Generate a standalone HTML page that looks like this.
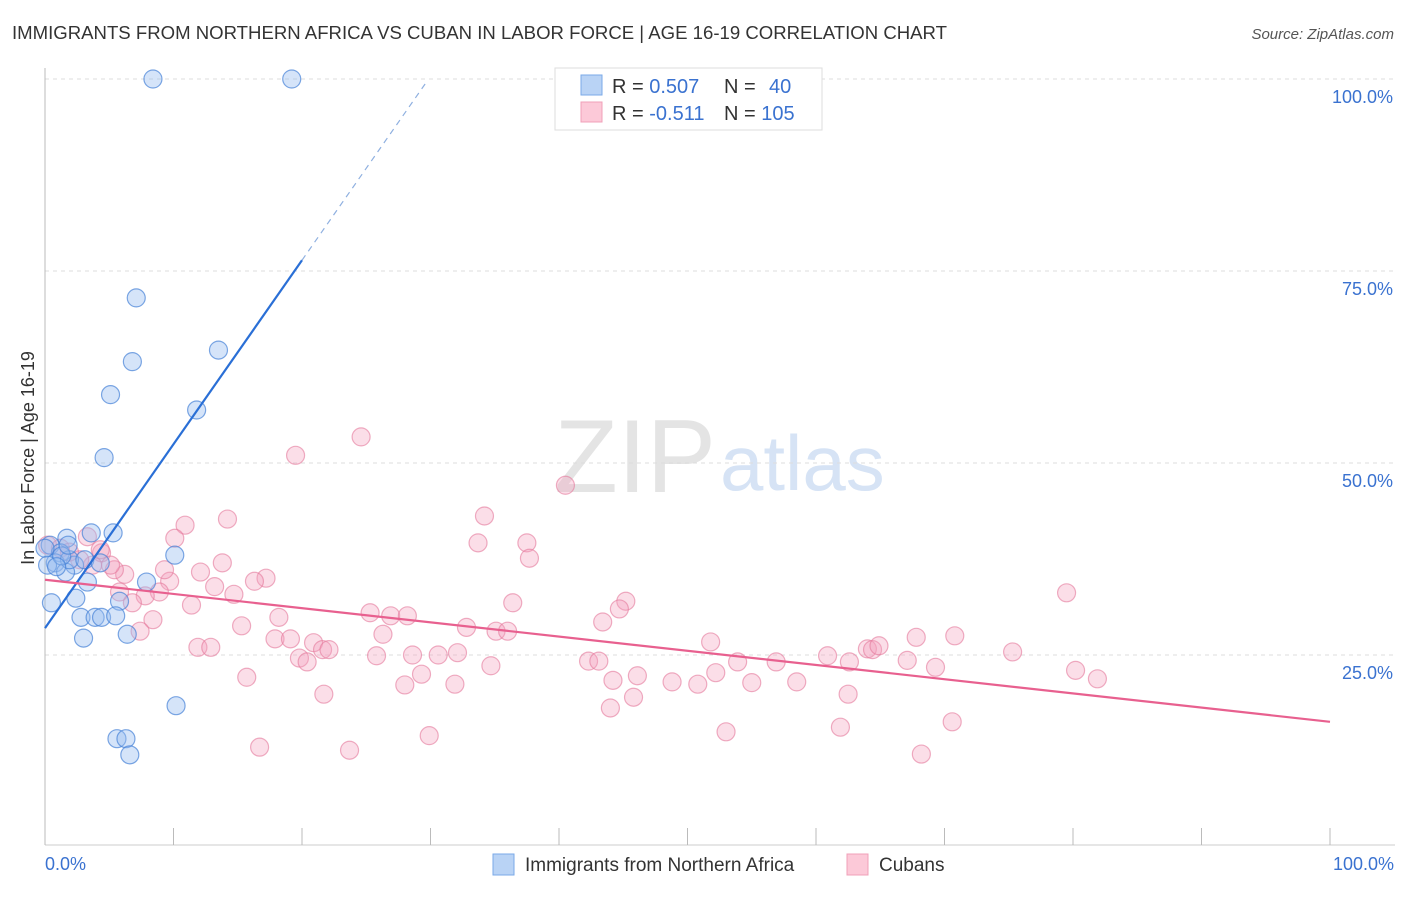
<!DOCTYPE html>
<html><head><meta charset="utf-8"><style>
body{margin:0;background:#fff;font-family:"Liberation Sans",sans-serif;}
svg text{font-family:"Liberation Sans",sans-serif;}
</style></head><body>
<svg id="chart" width="1406" height="892">
<text x="12" y="39" font-size="18" fill="#333" textLength="935" lengthAdjust="spacingAndGlyphs">IMMIGRANTS FROM NORTHERN AFRICA VS CUBAN IN LABOR FORCE | AGE 16-19 CORRELATION CHART</text>
<text x="1394" y="39" font-size="15" fill="#555" font-style="italic" text-anchor="end">Source: ZipAtlas.com</text>
<text x="716" y="492" font-size="104" fill="#e4e4e4" text-anchor="end" font-family="Liberation Serif">ZIP</text>
<text x="720" y="490" font-size="78" fill="#d6e3f5">atlas</text>
<text transform="translate(34,458) rotate(-90)" font-size="18" fill="#333" text-anchor="middle">In Labor Force | Age 16-19</text>
<g id="grid"></g><g id="ticks"></g><g id="pts"></g><g id="lines"></g>
<g>
<rect x="555" y="68" width="267" height="62" fill="#fff" stroke="#ddd"/>
<rect x="581" y="75" width="21" height="20" fill="#b9d3f5" stroke="#7aaae8"/>
<rect x="581" y="102" width="21" height="20" fill="#fcc9d8" stroke="#f0a0b8"/>
<text x="612" y="93" font-size="20" fill="#333">R = <tspan fill="#3a72d0">0.507</tspan></text>
<text x="724" y="93" font-size="20" fill="#333">N = <tspan x="769" fill="#3a72d0">40</tspan></text>
<text x="612" y="120" font-size="20" fill="#333">R = <tspan fill="#3a72d0">-0.511</tspan></text>
<text x="724" y="120" font-size="20" fill="#333">N = <tspan fill="#3a72d0">105</tspan></text>
</g>
<g>
<rect x="493" y="854" width="21" height="21" fill="#b9d3f5" stroke="#7aaae8"/>
<text x="525" y="871" font-size="19" fill="#333">Immigrants from Northern Africa</text>
<rect x="847" y="854" width="21" height="21" fill="#fcc9d8" stroke="#f0a0b8"/>
<text x="879" y="871" font-size="19" fill="#333">Cubans</text>
</g>
<text x="45" y="870" font-size="18" fill="#3a72d0">0.0%</text>
<text x="1394" y="870" font-size="18" fill="#3a72d0" text-anchor="end">100.0%</text>
</svg>
<script>
const yTicks=[25,50,75,100];
const yTickLabels=["25.0%","50.0%","75.0%","100.0%"];
const xTicks=[0,10,20,30,40,50,60,70,80,90,100];
const blueX=[8.4,19.2,7.1,6.8,13.5,5.1,11.8,4.6,5.3,3.6,1.7,10.1,0.4,1.2,0.8,2.3,1.6,3.3,7.9,2.4,0.5,5.8,2.8,3.9,4.4,5.5,3.0,6.4,10.2,5.6,6.3,6.6,0,1.9,0.2,1.3,0.9,3.1,4.3,1.8];
const blueY=[100,100,71.5,63.2,64.7,58.9,56.9,50.7,40.9,40.9,40.2,38.0,39.3,38.3,37.0,36.7,35.8,34.5,34.5,32.4,31.8,32.0,29.9,29.9,29.9,30.1,27.2,27.7,18.4,14.1,14.1,12.0,38.9,37.4,36.7,37.9,36.5,37.4,37.0,39.3];
const pinkX=[24.6,19.5,40.5,34.2,10.9,14.2,33.7,37.5,37.7,10.1,3.3,4.4,3.7,13.8,12.1,17.2,16.3,6.2,9.7,9.3,5.4,13.2,14.7,8.9,7.8,5.8,6.8,11.4,36.4,45.2,44.7,79.5,25.3,26.9,28.2,18.2,8.4,7.4,15.3,26.3,17.9,19.1,32.8,35.1,36.0,43.4,51.8,67.8,70.8,11.9,12.9,20.9,21.6,22.1,19.8,20.4,25.8,28.6,30.6,32.1,34.7,42.3,43.1,53.9,56.9,60.9,62.6,64.0,64.4,64.9,67.1,69.3,75.3,80.2,81.9,15.7,29.3,44.2,46.1,48.8,50.8,52.2,55.0,58.5,28.0,31.9,21.7,45.8,62.5,44.0,53.0,61.9,70.6,29.9,16.7,23.7,68.2,0.2,2.7,1.2,1.9,4.3,5.1];
const pinkY=[53.4,51.0,47.1,43.1,41.9,42.7,39.6,39.6,37.6,40.2,40.4,38.3,36.7,37.0,35.8,35.0,34.6,35.5,34.6,36.1,36.1,33.9,32.9,33.2,32.7,33.2,31.8,31.5,31.8,32.0,31.0,33.1,30.5,30.1,30.1,29.9,29.6,28.1,28.8,27.7,27.1,27.1,28.6,28.1,28.1,29.3,26.7,27.3,27.5,26.0,26.0,26.6,25.7,25.7,24.6,24.1,24.9,25.0,25.0,25.3,23.6,24.2,24.2,24.1,24.1,24.9,24.1,25.8,25.7,26.2,24.3,23.4,25.4,23.0,21.9,22.1,22.5,21.7,22.3,21.5,21.2,22.7,21.4,21.5,21.1,21.2,19.9,19.5,19.9,18.1,15.0,15.6,16.3,14.5,13.0,12.6,12.1,39.3,37.4,38.9,38.4,38.7,36.7];
const blueTrend=[0,28.5,20,76.4,29.6,99.4];
const pinkTrend=[0,34.8,100,16.3];
const X=v=>45+v*12.85, Y=v=>847-v*7.68;
const NS="http://www.w3.org/2000/svg";
function mk(p,t,a){const e=document.createElementNS(NS,t);for(const k in a)e.setAttribute(k,a[k]);p.appendChild(e);return e;}
const grid=document.getElementById('grid'),ticks=document.getElementById('ticks');
yTicks.forEach((t,i)=>{
 const l=mk(grid,'line',{x1:45,x2:1395,y1:Y(t),y2:Y(t),stroke:'#ddd','stroke-dasharray':'4,4'});
 
 
 const tx=mk(grid,'text',{x:1393,y:Y(t)+24,'font-size':18,fill:'#3a72d0','text-anchor':'end'});
 tx.textContent=yTickLabels[i];
 
 
});
mk(ticks,'line',{x1:45,x2:45,y1:68,y2:845,stroke:'#bbb'});
mk(ticks,'line',{x1:45,x2:1395,y1:845,y2:845,stroke:'#ccc'});
xTicks.forEach(t=>{
 const l=mk(ticks,'line',{x1:X(t),x2:X(t),y1:828,y2:845,stroke:'#bbb'});
 
 
});
const pts=document.getElementById('pts');
pinkX.forEach((x,i)=>{
 const c=mk(pts,'circle',{cx:X(x),cy:Y(pinkY[i]),r:9,fill:'rgba(244,160,188,0.35)',stroke:'rgba(228,120,155,0.6)','stroke-width':1.2});
 
 
});
blueX.forEach((x,i)=>{
 const c=mk(pts,'circle',{cx:X(x),cy:Y(blueY[i]),r:9,fill:'rgba(150,188,240,0.4)',stroke:'rgba(70,130,215,0.7)','stroke-width':1.2});
 
 
});
const ln=document.getElementById('lines');
const b1=mk(ln,'line',{x1:X(blueTrend[0]),y1:Y(blueTrend[1]),x2:X(blueTrend[2]),y2:Y(blueTrend[3]),stroke:'#2a6fd6','stroke-width':2.2});


const b2=mk(ln,'line',{x1:X(blueTrend[2]),y1:Y(blueTrend[3]),x2:X(blueTrend[4]),y2:Y(blueTrend[5]),stroke:'#8fb0e0','stroke-width':1.2,'stroke-dasharray':'6,5'});


const p1=mk(ln,'line',{x1:X(pinkTrend[0]),y1:Y(pinkTrend[1]),x2:X(pinkTrend[2]),y2:Y(pinkTrend[3]),stroke:'#e8608f','stroke-width':2.2});


</script>
</body></html>
